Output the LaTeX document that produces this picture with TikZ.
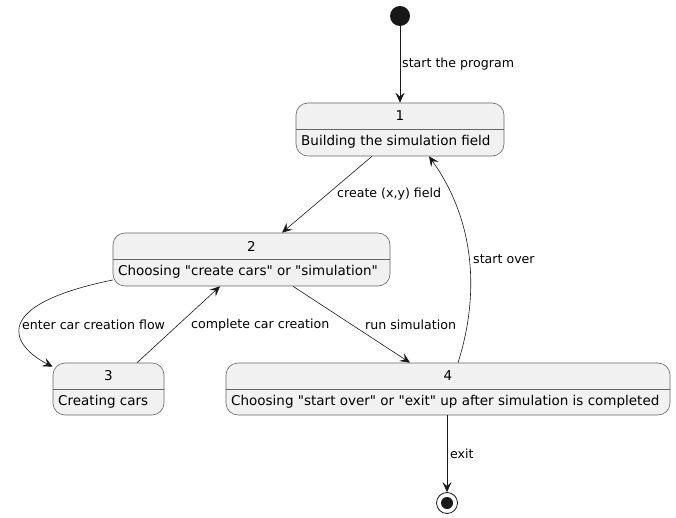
\documentclass[tikz,border=0pt]{standalone}
\usepackage{fontspec}
\setmainfont{DejaVu Sans}[Ligatures=TeXOff]
\usetikzlibrary{arrows.meta}
\definecolor{boxfill}{HTML}{F1F1F1}
\definecolor{boxline}{HTML}{666666}
\definecolor{ink}{HTML}{181818}
\begin{document}
\begin{tikzpicture}[x=1pt,y=-1pt,
  statebox/.style={draw=boxline, fill=boxfill, rounded corners=12pt, line width=0.6pt, inner sep=0pt},
  ttl/.style={font=\fontsize{13.5}{16}\selectfont, text=black, inner sep=0pt},
  body/.style={font=\fontsize{13.5}{16}\selectfont, text=black, inner sep=0pt, anchor=west},
  lbl/.style={font=\fontsize{12.6}{15}\selectfont, text=black, inner sep=0pt, anchor=west},
  conn/.style={draw=ink, line width=0.6pt, -{Stealth[length=10pt,width=9pt,inset=4pt]}}]
\useasboundingbox (0,0) rectangle (676,518);
% start / end
\node[circle, fill=ink, minimum size=20pt, inner sep=0pt] (start) at (400,16) {};
\node[circle, draw=ink, fill=white, line width=0.8pt, minimum size=21pt, inner sep=0pt] (end) at (447,503) {};
\node[circle, fill=ink, minimum size=12pt, inner sep=0pt] (endin) at (447,503) {};
% states
\node[statebox, minimum width=208pt, minimum height=53pt] (s1) at (400,129.5) {};
\draw[boxline, line width=0.6pt] (s1.west) -- (s1.east);
\node[ttl] (t1) at (400,116) {1};
\node[body] (b1) at (301,142) {Building the simulation field};

\node[statebox, minimum width=277pt, minimum height=53pt] (s2) at (251.5,259.5) {};
\draw[boxline, line width=0.6pt] (s2.west) -- (s2.east);
\node[ttl] (t2) at (251.5,246) {2};
\node[body] (b2) at (118,272) {Choosing "create cars" or "simulation"};

\node[statebox, minimum width=111pt, minimum height=52pt] (s3) at (108.5,389) {};
\draw[boxline, line width=0.6pt] (s3.west) -- (s3.east);
\node[ttl] (t3) at (108.5,376) {3};
\node[body] (b3) at (58,402) {Creating cars};

\node[statebox, minimum width=444pt, minimum height=52pt] (s4) at (448,389) {};
\draw[boxline, line width=0.6pt] (s4.west) -- (s4.east);
\node[ttl] (t4) at (448,376) {4};
\node[body] (b4) at (231,402) {Choosing "start over" or "exit" up after simulation is completed};

% connectors
\draw[conn] (start) -- (s1.north);
\node[lbl] (l1) at (402,64) {start the program};

\draw[conn] ([xshift=-28pt]s1.south) -- ([xshift=30.5pt]s2.north);
\node[lbl] (l2) at (337,194) {create (x,y) field};

\draw[conn] ([yshift=-20.5pt]s2.west) .. controls (-10,305) and (10,345) .. ([yshift=-4pt]s3.north west);
\node[lbl] (l3) at (22,325) {enter car creation flow};

\draw[conn] ([xshift=28.5pt]s3.north) -- ([xshift=-31.5pt]s2.south);
\node[lbl] (l4) at (191,325) {complete car creation};

\draw[conn] ([xshift=41.5pt]s2.south) -- ([xshift=-38pt]s4.north);
\node[lbl] (l5) at (365,325) {run simulation};

\draw[conn] ([xshift=10pt]s4.north) .. controls (478,300) and (478,225) .. ([xshift=29pt]s1.south);
\node[lbl] (l6) at (473,259) {start over};

\draw[conn] (s4.south -| end) -- (end);
\node[lbl] (l7) at (450,454) {exit};
\end{tikzpicture}
\end{document}
